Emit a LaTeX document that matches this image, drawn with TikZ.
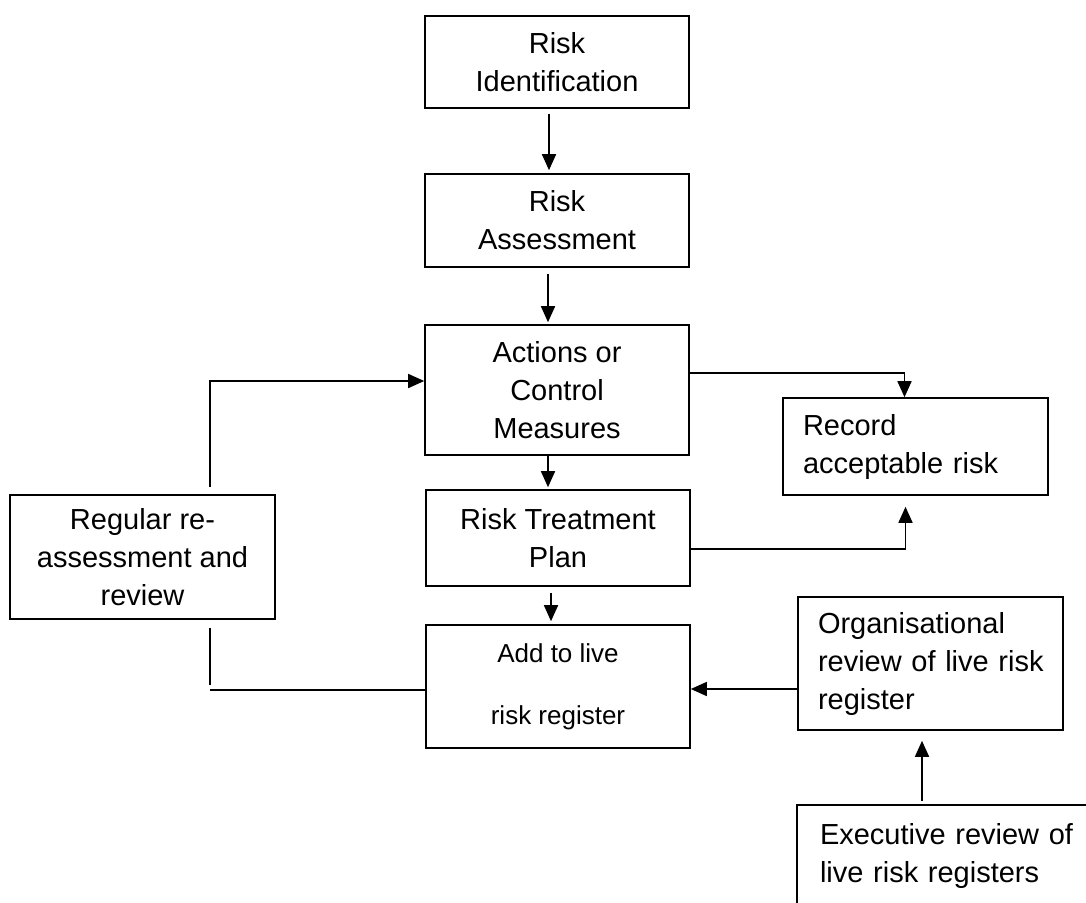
\documentclass[tikz,border=0pt]{standalone}
\usepackage{fontspec}
\setmainfont{Liberation Sans}
\usetikzlibrary{arrows.meta}

\tikzset{
	stage/.style={draw, line width=1.6pt, minimum width=264pt, inner sep=0pt, align=center, font=\fontsize{29}{38}\selectfont},
	note/.style={stage, minimum width=265pt, text width=225pt, align=left},
	flow/.style={line width=1.6pt, -{Triangle[length=16pt,width=14pt]}},
	link/.style={line width=1.6pt},
}

\begin{document}
\begin{tikzpicture}[x=1pt, y=-1pt]
		\useasboundingbox (0,0) rectangle (1086,902);
		\clip (0,0) rectangle (1086,902);
		%%%%% START %%%%%
		
		\node[stage, minimum height=92pt] (ident) at (557,62) {Risk\\Identification};
		\node[stage, minimum height=93pt] (assess) at (557,220.5) {Risk\\Assessment};
		\node[stage, minimum height=130pt] (actions) at (557,390) {Actions or\\Control\\Measures};
		\node[stage, minimum height=96pt] (treat) at (558,538) {Risk Treatment\\Plan};
		\node[stage, minimum height=123pt, font=\fontsize{26}{36}\selectfont] (addlive) at (558,686.5) {Add to live\\[26pt]risk register};
		
		\node[stage, minimum width=265pt, minimum height=124pt] (regular) at (142.5,557) {Regular re-\\assessment and\\review};
		
		\node[note, minimum height=97pt] (record) at (915.5,446.5) {Record\\acceptable~risk};
		\node[note, minimum height=133pt] (org) at (930.5,663.5) {Organisational\\review~of~live~risk\\register};
		\node[note, draw=none, minimum width=304pt, text width=260pt, minimum height=100pt] (exec) at (950,856) {Executive~review~of\\live~risk~registers};
		\draw[link] (exec.south west) -- (exec.north west) -- ([xshift=20pt]exec.north east);
		
		\draw[flow, shorten <=5pt, shorten >=3pt] ([xshift=-8pt]ident.south) -- ([xshift=-8pt]assess.north);
		\draw[flow, shorten <=6pt, shorten >=2pt] ([xshift=-9pt]assess.south) -- ([xshift=-9pt]actions.north);
		\draw[flow, shorten >=2pt] ([xshift=-9pt]actions.south) -- ([xshift=-10pt]treat.north);
		\draw[flow, shorten <=6pt, shorten >=3pt] ([xshift=-7pt]treat.south) -- ([xshift=-7pt]addlive.north);
		
		\draw[flow] ([yshift=17pt]actions.east) -| ([xshift=-11pt]record.north);
		\draw[flow, shorten >=11pt] ([yshift=-11pt]treat.east) -| ([xshift=-10pt]record.south);
		
		\draw[flow, shorten <=7pt] ([xshift=67.5pt]regular.north) |- ([yshift=9pt]actions.west);
		\coordinate (loopfoot) at (210,690);
		\draw[link] ([yshift=-3.5pt]addlive.west) -- (loopfoot);
		\draw[link, shorten <=5pt, shorten >=8pt] (loopfoot) -- ([xshift=67.5pt]regular.south);
		
		\draw[flow] ([yshift=-25.5pt]org.west) -- ([yshift=-2.5pt]addlive.east);
		\draw[flow, shorten <=4pt, shorten >=10pt] ([xshift=-28pt]exec.north) -- ([xshift=-8.5pt]org.south);
		
		%%%%% END %%%%%
	\end{tikzpicture}
\end{document}
